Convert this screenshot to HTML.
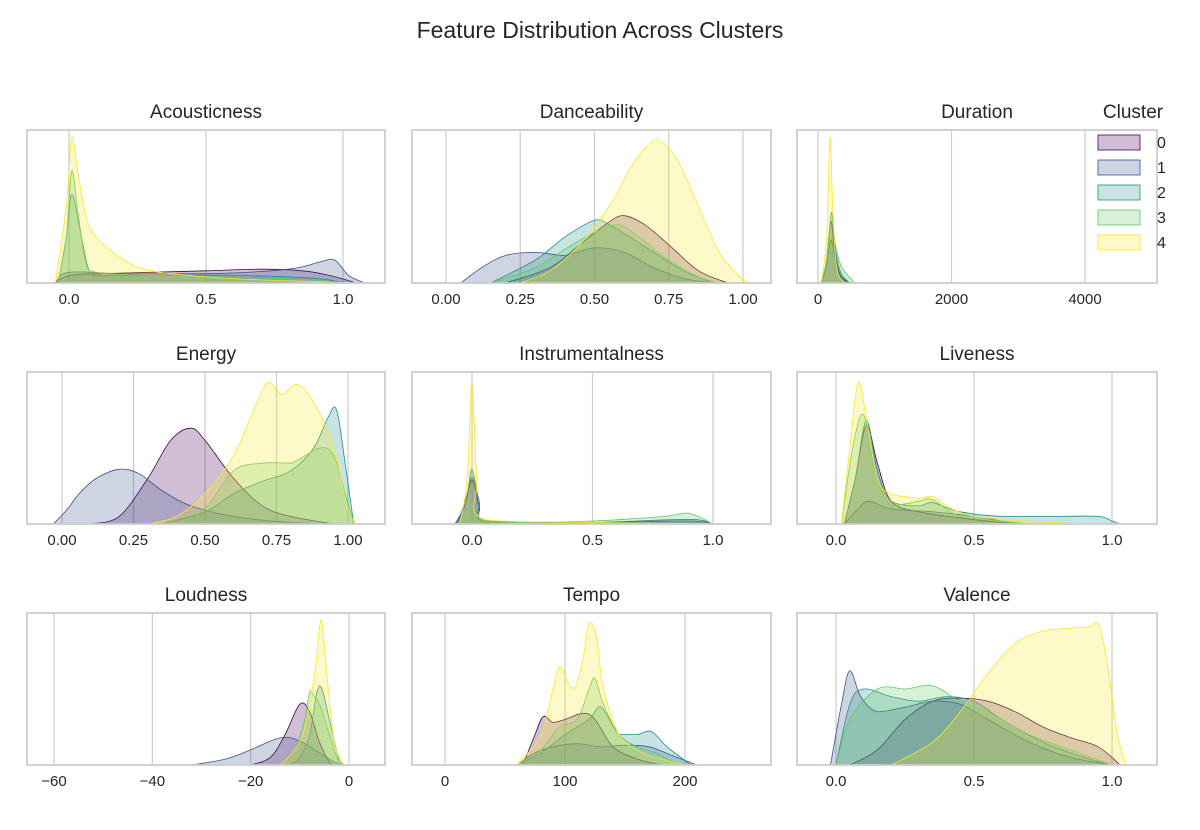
<!DOCTYPE html>
<html><head><meta charset="utf-8">
<style>
html,body{margin:0;padding:0;background:#fff;}
svg text{font-family:"Liberation Sans",Arial,sans-serif;fill:#262626;}
</style></head>
<body>
<svg id="chart" width="1200" height="825" viewBox="0 0 1200 825" xmlns="http://www.w3.org/2000/svg">
<text x="600" y="38" text-anchor="middle" font-size="23">Feature Distribution Across Clusters</text>
<g id="panels"></g>
<g id="legend">
<text x="1133" y="118" text-anchor="middle" font-size="19">Cluster</text>
</g>
</svg>
<script>
const clusterNames=["0","1","2","3","4"];
const colors=["#440154","#3b528b","#21918c","#5ec962","#fde725"];
const featureTitles=["Acousticness","Danceability","Duration","Energy","Instrumentalness","Liveness","Loudness","Tempo","Valence"];
const tickLabels=[["0.0","0.5","1.0"],["0.00","0.25","0.50","0.75","1.00"],["0","2000","4000"],["0.00","0.25","0.50","0.75","1.00"],["0.0","0.5","1.0"],["0.0","0.5","1.0"],["−60","−40","−20","0"],["0","100","200"],["0.0","0.5","1.0"]];
const tickValues=[[0,0.5,1],[0,0.25,0.5,0.75,1],[0,2000,4000],[0,0.25,0.5,0.75,1],[0,0.5,1],[0,0.5,1],[-60,-40,-20,0],[0,100,200],[0,0.5,1]];
// densities: per feature, per cluster: [[x,density],...]
const acoustic=[
[[-0.05,0],[0,0.05],[0.1,0.06],[0.3,0.07],[0.5,0.08],[0.7,0.09],[0.85,0.08],[0.95,0.05],[1.05,0]],
[[-0.05,0],[0,0.07],[0.2,0.06],[0.5,0.06],[0.8,0.09],[0.92,0.14],[0.97,0.15],[1.02,0.05],[1.08,0]],
[[-0.04,0],[-0.01,0.3],[0.01,0.58],[0.04,0.35],[0.07,0.1],[0.1,0.05],[0.3,0.05],[0.6,0.05],[0.9,0.03],[1.0,0]],
[[-0.04,0],[-0.01,0.3],[0.01,0.73],[0.03,0.5],[0.06,0.15],[0.1,0.07],[0.3,0.05],[0.6,0.04],[0.9,0.02],[1.0,0]],
[[-0.05,0],[-0.01,0.5],[0.01,0.95],[0.03,0.75],[0.06,0.45],[0.1,0.3],[0.2,0.15],[0.3,0.08],[0.5,0.04],[0.7,0.02],[0.9,0.01],[1.0,0]]];
const dance=[
[[0.2,0],[0.35,0.1],[0.45,0.25],[0.55,0.4],[0.6,0.44],[0.67,0.38],[0.75,0.25],[0.85,0.08],[0.95,0]],
[[0.05,0],[0.12,0.1],[0.2,0.18],[0.3,0.2],[0.4,0.18],[0.5,0.23],[0.6,0.2],[0.7,0.1],[0.8,0.03],[0.9,0]],
[[0.15,0],[0.3,0.15],[0.4,0.3],[0.5,0.41],[0.55,0.38],[0.62,0.3],[0.7,0.2],[0.8,0.08],[0.9,0]],
[[0.15,0],[0.3,0.1],[0.4,0.22],[0.5,0.33],[0.58,0.38],[0.65,0.3],[0.75,0.15],[0.85,0.04],[0.92,0]],
[[0.25,0],[0.35,0.08],[0.45,0.25],[0.55,0.5],[0.62,0.75],[0.68,0.9],[0.72,0.93],[0.78,0.8],[0.85,0.5],[0.92,0.2],[1.0,0.02],[1.02,0]]];
const duration=[
[[40,0],[120,0.12],[190,0.4],[240,0.25],[320,0.06],[450,0]],
[[40,0],[120,0.1],[190,0.28],[250,0.18],[340,0.05],[480,0]],
[[40,0],[130,0.15],[200,0.46],[250,0.25],[340,0.07],[480,0]],
[[40,0],[130,0.15],[200,0.45],[260,0.25],[360,0.1],[550,0]],
[[50,0],[130,0.3],[180,0.95],[220,0.5],[280,0.1],[400,0]]];
const energy=[
[[0.1,0],[0.2,0.05],[0.3,0.3],[0.38,0.55],[0.45,0.63],[0.5,0.55],[0.6,0.3],[0.7,0.12],[0.8,0.05],[0.95,0]],
[[-0.03,0],[0.02,0.1],[0.06,0.2],[0.12,0.3],[0.2,0.36],[0.27,0.33],[0.35,0.22],[0.45,0.12],[0.6,0.05],[0.8,0.01],[1.0,0]],
[[0.35,0],[0.5,0.08],[0.6,0.2],[0.7,0.28],[0.8,0.35],[0.88,0.5],[0.93,0.7],[0.96,0.75],[0.99,0.4],[1.02,0]],
[[0.4,0],[0.5,0.1],[0.6,0.35],[0.7,0.4],[0.8,0.4],[0.9,0.5],[0.95,0.45],[0.99,0.2],[1.02,0]],
[[0.3,0],[0.4,0.05],[0.5,0.2],[0.6,0.45],[0.67,0.75],[0.72,0.93],[0.77,0.85],[0.82,0.92],[0.88,0.8],[0.95,0.5],[1.0,0.1],[1.03,0]]];
const instr=[
[[-0.07,0],[-0.03,0.12],[0,0.29],[0.03,0.12],[0.07,0.01],[0.5,0.01],[0.9,0.02],[1.0,0]],
[[-0.07,0],[-0.03,0.12],[0,0.31],[0.03,0.12],[0.07,0.01],[0.5,0.01],[0.9,0.03],[1.0,0]],
[[-0.06,0],[-0.02,0.2],[0,0.36],[0.03,0.15],[0.07,0.02],[0.5,0.01],[0.9,0.02],[1.0,0]],
[[-0.06,0],[-0.02,0.06],[0,0.12],[0.03,0.05],[0.1,0.01],[0.5,0.02],[0.8,0.05],[0.9,0.07],[1.0,0]],
[[-0.05,0],[-0.02,0.3],[0,0.93],[0.02,0.3],[0.05,0.03],[0.5,0.01],[1.0,0]]];
const live=[
[[0.03,0],[0.07,0.3],[0.11,0.65],[0.15,0.4],[0.2,0.15],[0.3,0.08],[0.45,0.04],[0.6,0.01],[0.7,0]],
[[0.03,0],[0.08,0.1],[0.12,0.15],[0.2,0.1],[0.35,0.08],[0.5,0.05],[0.6,0.02],[0.7,0]],
[[0.03,0],[0.07,0.3],[0.11,0.68],[0.15,0.35],[0.2,0.15],[0.3,0.12],[0.35,0.14],[0.45,0.08],[0.6,0.05],[0.8,0.05],[0.95,0.05],[1.0,0.02],[1.03,0]],
[[0.02,0],[0.06,0.5],[0.1,0.72],[0.14,0.35],[0.2,0.12],[0.3,0.15],[0.35,0.16],[0.45,0.05],[0.6,0.02],[0.7,0]],
[[0.02,0],[0.05,0.5],[0.08,0.93],[0.11,0.7],[0.15,0.3],[0.2,0.2],[0.3,0.17],[0.35,0.18],[0.4,0.12],[0.5,0.05],[0.7,0.02],[0.9,0]]];
const loud=[
[[-20,0],[-16,0.05],[-13,0.2],[-10,0.4],[-8,0.35],[-6,0.15],[-4,0.02],[-3,0]],
[[-32,0],[-25,0.04],[-20,0.1],[-15,0.17],[-12,0.18],[-9,0.14],[-6,0.08],[-3,0.02],[-1,0]],
[[-12,0],[-10,0.05],[-8,0.2],[-6.5,0.48],[-5.5,0.5],[-4,0.3],[-2,0.03],[-1,0]],
[[-14,0],[-11,0.1],[-9,0.3],[-8,0.48],[-7,0.45],[-6,0.4],[-4,0.2],[-2,0]],
[[-14,0],[-11,0.1],[-9,0.25],[-7,0.6],[-6,0.9],[-5.5,0.93],[-4.5,0.6],[-3,0.15],[-1,0]]];
const tempo=[
[[65,0],[75,0.2],[82,0.32],[90,0.28],[100,0.3],[115,0.34],[125,0.3],[140,0.12],[160,0.04],[180,0]],
[[60,0],[75,0.08],[90,0.12],[110,0.14],[130,0.12],[150,0.13],[170,0.12],[190,0.06],[210,0]],
[[60,0],[80,0.08],[100,0.2],[120,0.3],[130,0.38],[145,0.2],[160,0.2],[172,0.22],[185,0.12],[205,0]],
[[60,0],[80,0.1],[95,0.25],[110,0.3],[120,0.5],[125,0.57],[132,0.4],[145,0.2],[160,0.12],[175,0.08],[195,0]],
[[60,0],[80,0.2],[90,0.5],[96,0.65],[102,0.55],[108,0.5],[115,0.7],[120,0.93],[126,0.85],[132,0.5],[145,0.2],[160,0.1],[175,0.05],[200,0]]];
const valence=[
[[0.05,0],[0.15,0.1],[0.25,0.3],[0.35,0.42],[0.45,0.44],[0.55,0.42],[0.65,0.35],[0.75,0.25],[0.85,0.18],[0.95,0.12],[1.03,0]],
[[-0.02,0],[0.02,0.4],[0.05,0.62],[0.09,0.45],[0.15,0.35],[0.25,0.38],[0.35,0.42],[0.45,0.4],[0.55,0.3],[0.7,0.15],[0.85,0.05],[1.0,0]],
[[0,0],[0.05,0.4],[0.1,0.5],[0.2,0.45],[0.3,0.42],[0.4,0.45],[0.5,0.42],[0.6,0.3],[0.75,0.15],[0.9,0.05],[1.0,0]],
[[0,0],[0.05,0.3],[0.15,0.5],[0.25,0.5],[0.35,0.52],[0.45,0.42],[0.55,0.35],[0.7,0.2],[0.85,0.1],[1.0,0]],
[[0.2,0],[0.35,0.15],[0.45,0.35],[0.55,0.6],[0.65,0.8],[0.75,0.88],[0.85,0.9],[0.92,0.91],[0.95,0.93],[0.98,0.7],[1.02,0.2],[1.05,0]]];
const allDens=[acoustic,dance,duration,energy,instr,live,loud,tempo,valence];

// layout
const colX=[[27,385],[412,771],[797,1157]];
const rowY=[[130,283],[372,524],[613,765]];
// axis calibration: [value a, px a, value b, px b]
const calib=[[0,69,1,343],[0,446,1,743],[0,818,4000,1085],[0,62,1,348],[0,472,1,713],[0,836,1,1112],[-60,54,0,349],[0,445,200,685],[0,836,1,1112]];
const NS="http://www.w3.org/2000/svg";
const panels=document.getElementById('panels');
function mk(t,a,p){const e=document.createElementNS(NS,t);for(const k in a)e.setAttribute(k,a[k]);(p||panels).appendChild(e);return e;}
function smoothPath(pts){
  let d="M"+pts[0][0].toFixed(1)+","+pts[0][1].toFixed(1);
  for(let i=0;i<pts.length-1;i++){
    const p0=pts[i-1]||pts[i],p1=pts[i],p2=pts[i+1],p3=pts[i+2]||p2;
    let c1y=p1[1]+(p2[1]-p0[1])/6,c2y=p2[1]-(p3[1]-p1[1])/6;
    const base=Math.max(p1[1],p2[1]);
    c1y=Math.min(c1y,base+0);c2y=Math.min(c2y,base+0);
    d+=" C"+(p1[0]+(p2[0]-p0[0])/6).toFixed(1)+","+c1y.toFixed(1)+" "+(p2[0]-(p3[0]-p1[0])/6).toFixed(1)+","+c2y.toFixed(1)+" "+p2[0].toFixed(1)+","+p2[1].toFixed(1);
  }
  return d;
}
for(let f=0;f<9;f++){
  const r=Math.floor(f/3),c=f%3;
  const [x0,x1]=colX[c],[y0,y1]=rowY[r];
  const cb=calib[f];
  const sx=v=>cb[1]+(v-cb[0])*(cb[3]-cb[1])/(cb[2]-cb[0]);
  const sy=v=>y1-v*(y1-y0);
  const g=mk('g',{});
  
  
  const cp=mk('clipPath',{id:'cp'+f},g);
  mk('rect',{x:x0,y:y0,width:x1-x0,height:y1-y0},cp);
  tickValues[f].forEach((tv,i)=>{
    const px=sx(tv);
    const gl=mk('line',{x1:px,x2:px,y1:y0,y2:y1,stroke:'#cccccc','stroke-width':1.2},g);
    
    
    const tl=mk('text',{x:px,y:y1+21,'text-anchor':'middle','font-size':15},g);
    tl.textContent=tickLabels[f][i];
    
    
  });
  const cg=mk('g',{'clip-path':'url(#cp'+f+')'},g);
  allDens[f].forEach((series,k)=>{
    const pts=series.map(p=>[sx(p[0]),sy(p[1])]);
    const d=smoothPath(pts);
    const fill=mk('path',{d:d+" L"+pts[pts.length-1][0].toFixed(1)+","+y1+" L"+pts[0][0].toFixed(1)+","+y1+" Z",fill:colors[k],'fill-opacity':0.25,stroke:'none'},cg);
    
    
    const ln=mk('path',{d:d,fill:'none',stroke:colors[k],'stroke-width':0.8},cg);
    
    
  });
  const fr=mk('rect',{x:x0,y:y0,width:x1-x0,height:y1-y0,fill:'none',stroke:'#cccccc','stroke-width':1.8},g);
  
  
  const tt=mk('text',{x:(x0+x1)/2,y:y0-12,'text-anchor':'middle','font-size':19},g);
  tt.textContent=featureTitles[f];
  
  
}
const leg=document.getElementById('legend');
clusterNames.forEach((n,k)=>{
  const y=135+k*25;
  const e=mk('g',{},leg);
  
  
  mk('rect',{x:1098,y:y,width:42,height:15,fill:colors[k],'fill-opacity':0.25,stroke:colors[k],'stroke-width':0.8},e);
  const t=mk('text',{x:1157,y:y+13,'font-size':16},e);
  t.textContent=n;
});
</script>
</body></html>
